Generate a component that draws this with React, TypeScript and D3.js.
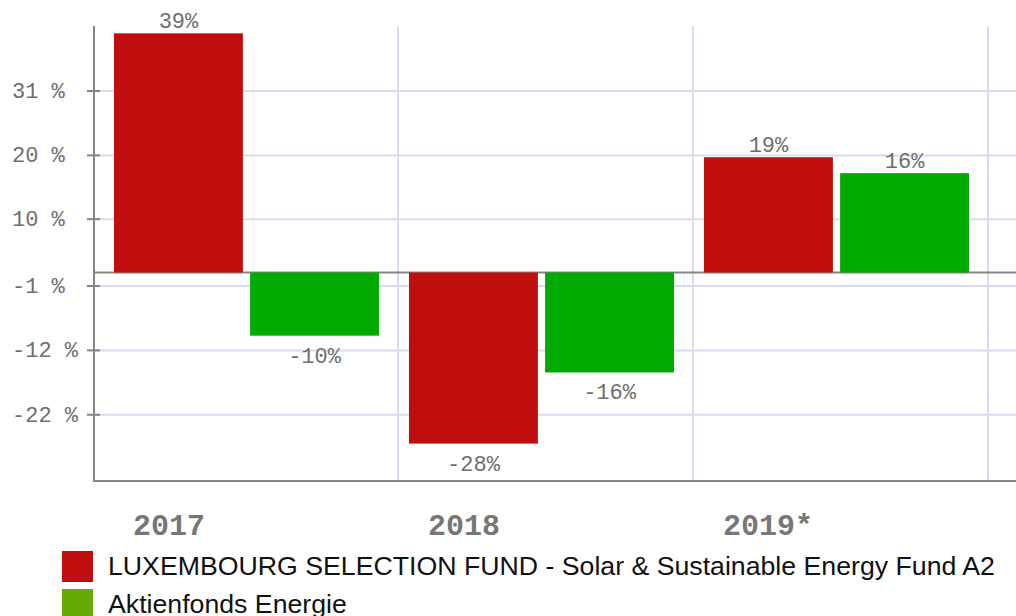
import * as d3 from 'd3';
import React, { useRef, useEffect } from 'react';

const categories = ["2017", "2018", "2019*"];
const seriesNames = [
    "LUXEMBOURG SELECTION FUND - Solar & Sustainable Energy Fund A2",
    "Aktienfonds Energie",
];
const fundValues = [39.0, -27.9, 18.8];
const benchValues = [-10.3, -16.3, 16.2];
const yTickValues = [29.6, 19.1, 8.7, -2.2, -12.7, -23.2];
const yTickLabels = ["31 %", "20 %", "10 %", "-1 %", "-12 %", "-22 %"];
const barColors = ["#c00d0d", "#00aa00"];
const legendColors = ["#c00d0d", "#66aa06"];

const App = () => {
    const svgRef = useRef<SVGSVGElement>(null);

    useEffect(() => {
        const width = 1016;
        const height = 616;
        const opt = {
            axisX: 94,
            top: 26,
            bottom: 481,
            right: 1016,
        };
        const mono = "'Liberation Mono', 'DejaVu Sans Mono', monospace";
        const textGray = "#6e6e6e";
        const gridColor = "#d9d9ef";
        const axisColor = "#858585";

        const svg = d3.select(svgRef.current);
        svg.selectAll("*").remove();
        svg.attr("width", width).attr("height", height);

        const y = d3.scaleLinear().domain([-34.0, 40.2]).range([opt.bottom, opt.top]);
        const x0 = d3.scaleBand<string>().domain(categories).range([103, 988]);
        const x1 = d3.scaleBand<number>().domain([0, 1]).range([11, 276]).paddingInner(0.053);

        const rows = categories.map((c, i) => ({ cat: c, values: [fundValues[i], benchValues[i]] }));

        // grid
        const grid = svg.append("g").attr("class", "grid");
        grid.selectAll("line.h")
            .data(yTickValues)
            .join("line")
            .attr("class", "h")
            .attr("x1", opt.axisX)
            .attr("x2", opt.right)
            .attr("y1", (d) => y(d))
            .attr("y2", (d) => y(d))
            .attr("stroke", gridColor)
            .attr("stroke-width", 2);

        grid.selectAll("line.v")
            .data(categories)
            .join("line")
            .attr("class", "v")
            .attr("x1", (d) => (x0(d) as number) + x0.bandwidth())
            .attr("x2", (d) => (x0(d) as number) + x0.bandwidth())
            .attr("y1", opt.top)
            .attr("y2", opt.bottom)
            .attr("stroke", gridColor)
            .attr("stroke-width", 2);

        // zero line
        svg.append("line")
            .attr("x1", opt.axisX)
            .attr("x2", opt.right)
            .attr("y1", y(0))
            .attr("y2", y(0))
            .attr("stroke", axisColor)
            .attr("stroke-width", 2);

        // bars
        const groups = svg.append("g").attr("class", "bars")
            .selectAll("g")
            .data(rows)
            .join("g")
            .attr("transform", (d) => `translate(${x0(d.cat)},0)`);

        groups.selectAll("rect")
            .data((d) => d.values.map((v, i) => ({ v, i })))
            .join("rect")
            .attr("x", (d) => x1(d.i) as number)
            .attr("width", x1.bandwidth())
            .attr("y", (d) => y(Math.max(0, d.v)))
            .attr("height", (d) => Math.abs(y(d.v) - y(0)))
            .attr("fill", (d) => barColors[d.i]);

        groups.selectAll("text")
            .data((d) => d.values.map((v, i) => ({ v, i })))
            .join("text")
            .attr("x", (d) => (x1(d.i) as number) + x1.bandwidth() / 2)
            .attr("y", (d) => (d.v >= 0 ? y(d.v) - 5 : y(d.v) + 27))
            .attr("text-anchor", "middle")
            .style("font-family", mono)
            .style("font-size", "22px")
            .style("fill", textGray)
            .text((d) => `${Math.round(d.v)}%`);

        // axes
        svg.append("line")
            .attr("x1", opt.axisX).attr("x2", opt.axisX)
            .attr("y1", opt.top).attr("y2", opt.bottom + 1)
            .attr("stroke", axisColor).attr("stroke-width", 2);
        svg.append("line")
            .attr("x1", opt.axisX - 1).attr("x2", opt.right)
            .attr("y1", opt.bottom).attr("y2", opt.bottom)
            .attr("stroke", axisColor).attr("stroke-width", 2);

        const ticks = svg.append("g").attr("class", "y-ticks");
        ticks.selectAll("line")
            .data(yTickValues)
            .join("line")
            .attr("x1", opt.axisX - 7)
            .attr("x2", opt.axisX + 6)
            .attr("y1", (d) => y(d))
            .attr("y2", (d) => y(d))
            .attr("stroke", axisColor)
            .attr("stroke-width", 2);
        ticks.selectAll("text")
            .data(yTickValues)
            .join("text")
            .attr("x", 12)
            .attr("y", (d) => y(d) + 7)
            .style("font-family", mono)
            .style("font-size", "22px")
            .style("fill", textGray)
            .text((d, i) => yTickLabels[i]);

        svg.append("g").attr("class", "x-labels")
            .selectAll("text")
            .data(categories)
            .join("text")
            .attr("x", (d) => (x0(d) as number) + 30)
            .attr("y", 535)
            .style("font-family", mono)
            .style("font-size", "30px")
            .style("font-weight", "bold")
            .style("fill", "#777")
            .text((d) => d);

        // legend
        const legend = svg.append("g").attr("class", "legend")
            .selectAll("g")
            .data(seriesNames)
            .join("g")
            .attr("transform", (d, i) => `translate(62, ${551 + i * 38})`);
        legend.append("rect")
            .attr("width", 31)
            .attr("height", 31)
            .attr("fill", (d, i) => legendColors[i]);
        legend.append("text")
            .attr("x", 46)
            .attr("y", 23.5)
            .style("font-family", "'Liberation Sans', Arial, sans-serif")
            .style("font-size", "26.7px")
            .style("fill", "#111")
            .text((d) => d);
    }, []);

    return (
        <svg ref={svgRef} style={{ position: "absolute", left: 0, top: 0 }} />
    );
};

export default App;
